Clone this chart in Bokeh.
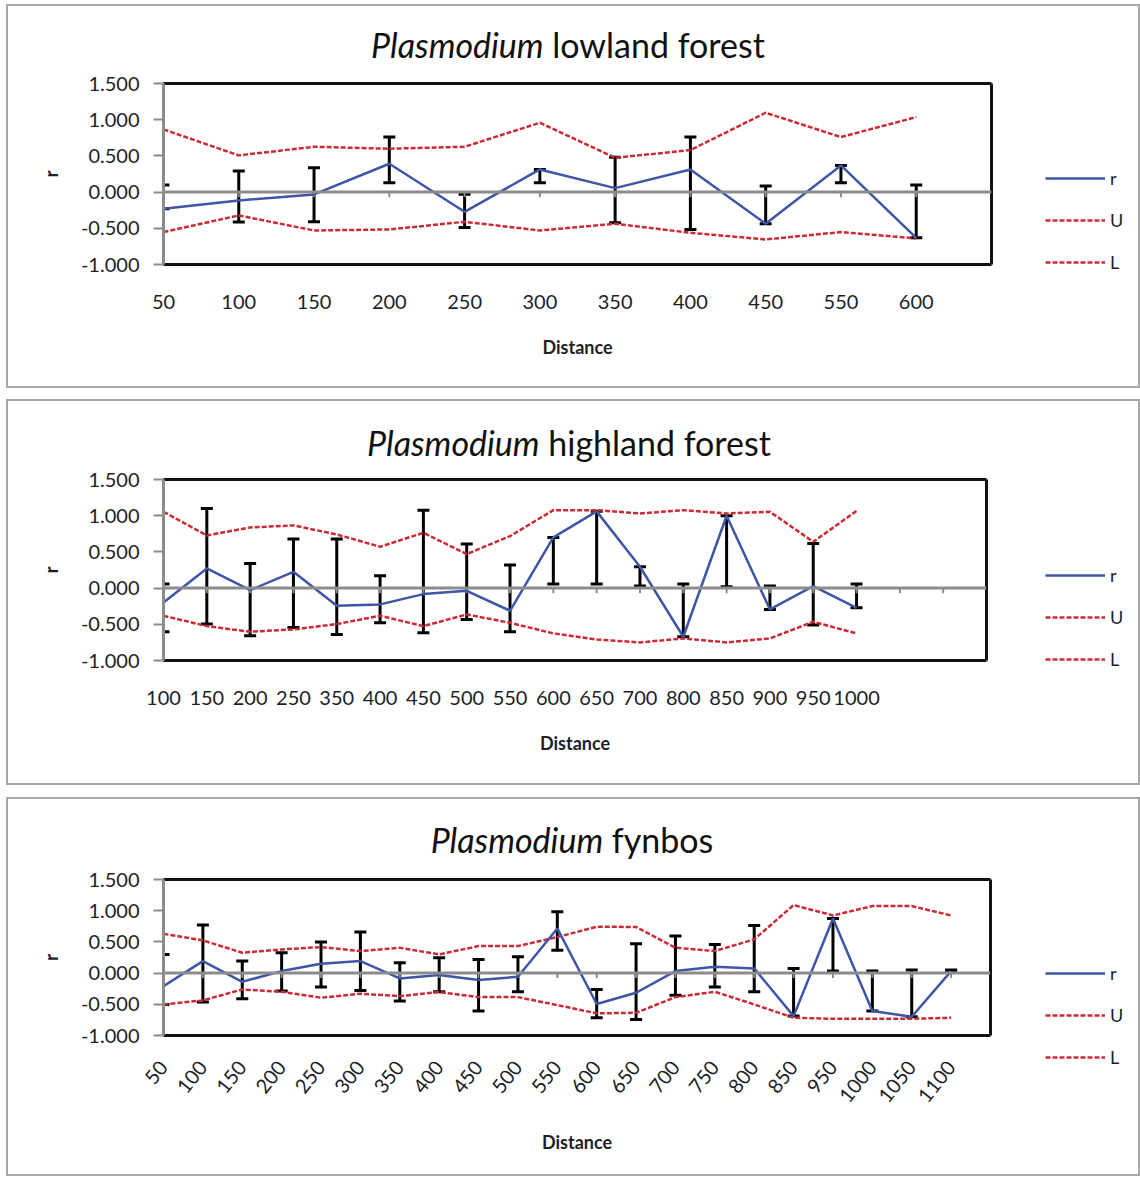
from bokeh.plotting import figure
from bokeh.models import (ColumnDataSource, Range1d, FixedTicker, LinearAxis, Span, Div, Spacer,
                          Whisker, TeeHead, Legend, LegendItem, PrintfTickFormatter)
from bokeh.layouts import column, row
from bokeh.embed import file_html
from bokeh.resources import INLINE

# ---------------- data ----------------
dist1 = ["50", "100", "150", "200", "250", "300", "350", "400", "450", "550", "600"]
r1 = [-0.23, -0.115, -0.032, 0.392, -0.272, 0.313, 0.055, 0.313, -0.437, 0.368, -0.631]
U1 = [0.866, 0.507, 0.626, 0.599, 0.626, 0.958, 0.474, 0.58, 1.096, 0.76, 1.036]
L1 = [-0.552, -0.322, -0.53, -0.516, -0.41, -0.53, -0.437, -0.562, -0.654, -0.552, -0.64]
hi1 = [0.097, 0.29, 0.335, 0.76, -0.03, 0.313, 0.483, 0.76, 0.083, 0.368, 0.097]
lo1 = [-0.23, -0.414, -0.41, 0.13, -0.49, 0.13, -0.424, -0.516, -0.437, 0.129, -0.631]

dist2 = ["100", "150", "200", "250", "350", "400", "450", "500", "550", "600", "650",
         "700", "800", "850", "900", "950", "1000", "", ""]
r2 = [-0.198, 0.272, -0.028, 0.225, -0.244, -0.225, -0.083, -0.037, -0.313, 0.70, 1.06,
      0.295, -0.672, 0.999, -0.295, 0.028, -0.272]
U2 = [1.054, 0.727, 0.838, 0.866, 0.741, 0.571, 0.764, 0.47, 0.718, 1.077, 1.077,
      1.031, 1.077, 1.031, 1.054, 0.64, 1.066]
L2 = [-0.382, -0.525, -0.603, -0.571, -0.497, -0.382, -0.525, -0.364, -0.479, -0.626, -0.71,
      -0.75, -0.695, -0.75, -0.695, -0.465, -0.626]
hi2 = [0.055, 1.10, 0.341, 0.677, 0.677, 0.17, 1.077, 0.608, 0.318, 0.70, 1.06,
       0.295, 0.055, 0.999, 0.03, 0.617, 0.055]
lo2 = [-0.603, -0.497, -0.658, -0.543, -0.64, -0.479, -0.617, -0.433, -0.603, 0.055, 0.055,
       0.03, -0.672, 0.02, -0.295, -0.511, -0.272]

dist3 = ["50", "100", "150", "200", "250", "300", "350", "400", "450", "500", "550", "600",
         "650", "700", "750", "800", "850", "950", "1000", "1050", "1100"]
r3 = [-0.208, 0.192, -0.139, 0.032, 0.15, 0.192, -0.085, -0.032, -0.112, -0.059, 0.716, -0.495,
      -0.315, 0.032, 0.10, 0.075, -0.689, 0.876, -0.609, -0.70, 0.032]
U3 = [0.63, 0.524, 0.326, 0.38, 0.417, 0.353, 0.406, 0.30, 0.433, 0.433, 0.577, 0.742,
      0.74, 0.406, 0.353, 0.54, 1.09, 0.924, 1.074, 1.074, 0.924]
L3 = [-0.502, -0.438, -0.262, -0.299, -0.395, -0.331, -0.368, -0.304, -0.385, -0.385, -0.513, -0.645,
      -0.636, -0.385, -0.299, -0.502, -0.716, -0.732, -0.732, -0.732, -0.716]
hi3 = [0.30, 0.769, 0.192, 0.326, 0.497, 0.657, 0.165, 0.246, 0.219, 0.262, 0.983, -0.262,
       0.47, 0.593, 0.46, 0.764, 0.075, 0.876, 0.032, 0.048, 0.048]
lo3 = [-0.502, -0.465, -0.411, -0.288, -0.224, -0.278, -0.449, -0.299, -0.609, -0.299, 0.368, -0.716,
       -0.743, -0.353, -0.224, -0.299, -0.689, 0.032, -0.609, -0.70, 0.032]

y_ticks = [-1.0, -0.5, 0.0, 0.5, 1.0, 1.5]
legend_labels = ["r", "U", "L"]

# ---------------- style ----------------
FONT = "Lato"
BLUE = "#3f55a6"
RED = "#cc2b35"
GRAY = "#8c8c8c"
TXT = "#1e1e28"
INNER_W = 1130
DIV_H = 64
LEFT_B = 155
RIGHT_B = 12


def edge_axis():
    return LinearAxis(ticker=FixedTicker(ticks=[]), axis_line_color="#111111", axis_line_width=3,
                      major_tick_line_color=None, minor_tick_line_color=None,
                      major_label_text_font_size="0px", major_label_standoff=0)


def make_panel(title_rest, cats, r, U, L, hi, lo, inner_h, frame_w, mb_top, mb_bottom,
               rotate, legend_x, legend_y, tick_len, title_pad, title_rpad,
               lab_standoff, axlab_standoff):
    n = len(cats)
    x = list(range(len(r)))
    fig_h = inner_h - DIV_H
    main_w = LEFT_B + frame_w + RIGHT_B
    p = figure(width=main_w, height=fig_h, x_range=Range1d(0, n), y_range=Range1d(-1.0, 1.5),
               output_backend="svg", toolbar_location=None,
               min_border_left=LEFT_B, min_border_right=RIGHT_B,
               min_border_top=mb_top, min_border_bottom=mb_bottom,
               background_fill_color="white", border_fill_color="white")
    p.grid.visible = False
    p.outline_line_color = None

    # x axis (categories at slot edges)
    xa = p.xaxis[0]
    xa.ticker = FixedTicker(ticks=list(range(n)))
    xa.major_label_overrides = {i: c for i, c in enumerate(cats)}
    xa.major_tick_line_color = None
    xa.minor_tick_line_color = None
    xa.major_tick_out = 0
    xa.major_tick_in = 0
    xa.axis_line_color = "#111111"
    xa.axis_line_width = 3
    xa.major_label_text_font = FONT
    xa.major_label_text_font_size = "20px"
    xa.major_label_text_color = TXT
    xa.major_label_standoff = lab_standoff
    if rotate:
        xa.major_label_orientation = 0.9
    xa.axis_label = "Distance"
    xa.axis_label_text_font = FONT
    xa.axis_label_text_font_style = "bold"
    xa.axis_label_text_font_size = "18px"
    xa.axis_label_text_color = TXT
    xa.axis_label_standoff = axlab_standoff

    # y axis
    ya = p.yaxis[0]
    ya.ticker = FixedTicker(ticks=y_ticks)
    ya.formatter = PrintfTickFormatter(format="%.3f")
    ya.axis_line_color = GRAY
    ya.axis_line_width = 3
    ya.major_tick_line_color = GRAY
    ya.major_tick_line_width = 2
    ya.major_tick_out = 10
    ya.major_tick_in = 0
    ya.minor_tick_line_color = None
    ya.major_label_text_font = FONT
    ya.major_label_text_font_size = "20px"
    ya.major_label_text_color = TXT
    ya.major_label_standoff = 14
    ya.axis_label = "r"
    ya.axis_label_text_font = FONT
    ya.axis_label_text_font_style = "bold"
    ya.axis_label_text_font_size = "18px"
    ya.axis_label_text_color = TXT
    ya.axis_label_standoff = 16

    # black frame edges on top and right
    p.add_layout(edge_axis(), "above")
    p.add_layout(edge_axis(), "right")

    # zero line with small category ticks
    p.add_layout(Span(location=0, dimension="width", line_color=GRAY, line_width=3))
    tk = list(range(n + 1))
    p.segment(x0=tk, y0=[0] * len(tk), x1=tk, y1=[-tick_len] * len(tk),
              line_color=GRAY, line_width=2)

    # lines
    p.line(x, U, line_color=RED, line_width=2.5, line_dash="5 2")
    p.line(x, L, line_color=RED, line_width=2.5, line_dash="5 2")
    p.line(x, r, line_color=BLUE, line_width=2.5)

    # error bars
    src = ColumnDataSource(dict(x=x, hi=hi, lo=lo))
    w = Whisker(base="x", upper="hi", lower="lo", source=src, dimension="height",
                line_color="black", line_width=3,
                upper_head=TeeHead(size=12, line_color="black", line_width=3),
                lower_head=TeeHead(size=12, line_color="black", line_width=3))
    p.add_layout(w)

    # legend area (to the right of the plot area); series drawn out of view, keys only
    lg = figure(width=INNER_W - main_w, height=fig_h, x_range=Range1d(-3, -2),
                y_range=Range1d(-1.0, 1.5),
                output_backend="svg", toolbar_location=None, x_axis_type=None, y_axis_type=None,
                min_border=0, background_fill_color="white", border_fill_color="white")
    lg.grid.visible = False
    lg.outline_line_color = None
    g_r = lg.line(x, r, line_color=BLUE, line_width=2.5)
    g_u = lg.line(x, U, line_color=RED, line_width=2.5, line_dash="5 2")
    g_l = lg.line(x, L, line_color=RED, line_width=2.5, line_dash="5 2")
    leg = Legend(items=[LegendItem(label=legend_labels[0], renderers=[g_r]),
                        LegendItem(label=legend_labels[1], renderers=[g_u]),
                        LegendItem(label=legend_labels[2], renderers=[g_l])],
                 location=(legend_x, legend_y), orientation="vertical",
                 glyph_width=60, glyph_height=20, label_height=20, spacing=20,
                 label_standoff=5, padding=0, margin=0,
                 border_line_color=None, background_fill_alpha=0,
                 label_text_font=FONT, label_text_font_size="18px", label_text_color=TXT)
    lg.add_layout(leg)

    title = Div(text=('<div style="font-family:Lato,sans-serif;font-size:34px;line-height:40px;'
                      f'padding-top:{title_pad}px;padding-right:{title_rpad}px;'
                      'box-sizing:border-box;text-align:center;color:#111111;'
                      f'width:{INNER_W}px;">'
                      f'<i>Plasmodium</i> {title_rest}</div>'),
                width=INNER_W, height=DIV_H, margin=0)
    box = column(title, row(p, column(lg, spacing=0), spacing=0), spacing=0,
                 styles={"border": "2px solid #a8a8a8", "background-color": "white"})
    return box


b1 = make_panel("lowland forest", dist1, r1, U1, L1, hi1, lo1, inner_h=380, frame_w=828,
                mb_top=13, mb_bottom=122, rotate=False, legend_x=42, legend_y=113,
                tick_len=0.07, title_pad=19, title_rpad=10, lab_standoff=30, axlab_standoff=24)
b2 = make_panel("highland forest", dist2, r2, U2, L2, hi2, lo2, inner_h=382, frame_w=823,
                mb_top=14, mb_bottom=123, rotate=False, legend_x=47, legend_y=113,
                tick_len=0.07, title_pad=22, title_rpad=8, lab_standoff=30, axlab_standoff=24)
b3 = make_panel("fynbos", dist3, r3, U3, L3, hi3, lo3, inner_h=375, frame_w=827,
                mb_top=16, mb_bottom=139, rotate=True, legend_x=43, legend_y=106,
                tick_len=0.08, title_pad=21, title_rpad=2, lab_standoff=28, axlab_standoff=19)

stack = column(Spacer(height=4), b1, Spacer(height=11), b2, Spacer(height=12), b3, spacing=0)
layout = row(Spacer(width=6), stack, spacing=0)
open("out.html", "w").write(file_html(layout, INLINE))
